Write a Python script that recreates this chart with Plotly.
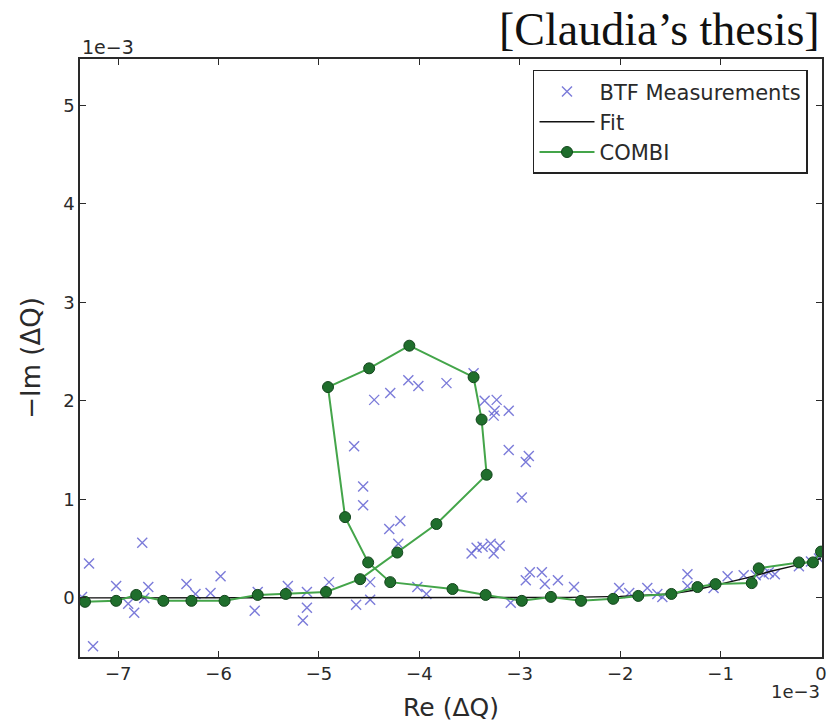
import plotly.graph_objects as go

# ---- data (in units of 1e-3) ----
btf_re = [-7.36, -7.29, -7.25, -7.02, -6.90, -6.84, -6.76, -6.74, -6.70, -6.32, -6.23, -6.08, -5.98,
          -5.61, -5.64, -5.31, -5.12, -5.12, -5.16, -4.90, -4.63, -4.49, -4.49, -4.21, -4.30, -4.19,
          -4.56, -4.56, -4.65, -4.45, -4.29, -4.11, -4.01, -3.73, -3.46, -3.35, -3.23, -3.25, -3.26,
          -3.11, -3.11, -2.91, -2.94, -2.98, -4.02, -3.93, -3.48, -3.43, -3.37, -3.29, -3.20, -3.26,
          -3.09, -2.90, -2.94, -2.78, -2.75, -2.62, -2.46, -2.01, -1.91, -1.73, -1.63, -1.58, -1.33,
          -1.33, -1.07, -0.93, -0.77, -0.65, -0.57, -0.52, -0.46, -0.22, -0.10, -0.02]
btf_im = [0.01, 0.35, -0.49, 0.12, -0.06, -0.15, 0.56, 0.00, 0.11, 0.14, 0.04, 0.05, 0.22,
          0.06, -0.13, 0.12, 0.06, -0.10, -0.23, 0.16, -0.07, 0.16, -0.02, 0.55, 0.70, 0.78,
          0.94, 1.13, 1.54, 2.01, 2.08, 2.21, 2.15, 2.18, 2.28, 2.00, 2.01, 1.90, 1.85,
          1.90, 1.50, 1.44, 1.38, 1.02, 0.11, 0.04, 0.45, 0.51, 0.52, 0.55, 0.53, 0.45,
          -0.05, 0.26, 0.18, 0.26, 0.14, 0.18, 0.11, 0.10, 0.05, 0.10, 0.04, 0.01, 0.24,
          0.12, 0.10, 0.22, 0.23, 0.23, 0.24, 0.26, 0.24, 0.32, 0.37, 0.40]

fit_re = [-7.4, -3.0, -2.5, -2.0, -1.5, -1.25, -1.0, -0.75, -0.5, -0.25, 0.0]
fit_im = [0.0, 0.0, 0.005, 0.015, 0.04, 0.08, 0.14, 0.20, 0.27, 0.33, 0.40]

combi_re = [-7.33, -7.02, -6.82, -6.55, -6.27, -5.94, -5.61, -5.33, -4.93, -4.59, -4.22, -3.83,
            -3.33, -3.38, -3.46, -4.10, -4.50, -4.91, -4.74, -4.51, -4.29, -3.67, -3.34, -2.98,
            -2.69, -2.39, -2.07, -1.82, -1.49, -1.23, -1.05, -0.69, -0.62, -0.22, -0.08, 0.0]
combi_im = [-0.04, -0.03, 0.03, -0.03, -0.03, -0.03, 0.03, 0.04, 0.06, 0.19, 0.46, 0.75,
            1.25, 1.81, 2.24, 2.56, 2.33, 2.14, 0.82, 0.36, 0.16, 0.09, 0.03, -0.03,
            0.01, -0.03, -0.01, 0.02, 0.04, 0.11, 0.14, 0.15, 0.30, 0.36, 0.36, 0.47]

x_ticks = [-7, -6, -5, -4, -3, -2, -1, 0]
y_ticks = [0, 1, 2, 3, 4, 5]

FONT = "DejaVu Sans"
AX = "#2a2a2a"

fig = go.Figure()
fig.add_trace(go.Scatter(
    x=btf_re, y=btf_im, mode="markers", name="BTF Measurements",
    marker=dict(symbol="x-thin", size=10, line=dict(width=1.4, color="rgba(100,100,210,0.85)"),
                color="rgba(100,100,210,0.85)")))
fig.add_trace(go.Scatter(
    x=fit_re, y=fit_im, mode="lines", name="Fit",
    line=dict(color="#111111", width=1.4)))
fig.add_trace(go.Scatter(
    x=combi_re, y=combi_im, mode="lines+markers", name="COMBI",
    line=dict(color="#44a54a", width=2),
    marker=dict(size=11, color="#1f6e2c", line=dict(color="#13451c", width=1))))

fig.update_layout(
    width=840, height=725,
    margin=dict(l=80, r=18, t=59, b=68, autoexpand=False),
    paper_bgcolor="white", plot_bgcolor="white",
    font=dict(family=FONT, size=18, color=AX),
    showlegend=True,
    legend=dict(x=0.6105, y=0.982, xanchor="left", yanchor="top",
                bgcolor="white", bordercolor="#222222", borderwidth=1.5,
                font=dict(family=FONT, size=21, color=AX),
                itemwidth=55, tracegroupgap=0),
    xaxis=dict(range=[-7.38, 0.01], tickvals=x_ticks, ticks="inside", ticklen=6, tickwidth=1,
               tickcolor=AX, showline=True, linecolor=AX, linewidth=1.5, mirror="allticks",
               showgrid=False, zeroline=False, automargin=False,
               title=dict(text="Re (ΔQ)", font=dict(size=25, family=FONT)),
               tickfont=dict(size=18)),
    yaxis=dict(range=[-0.6, 5.47], tickvals=y_ticks, ticks="inside", ticklen=6, tickwidth=1,
               tickcolor=AX, showline=True, linecolor=AX, linewidth=1.5, mirror="allticks",
               showgrid=False, zeroline=False, automargin=False,
               title=dict(text="−Im (ΔQ)", font=dict(size=26, family=FONT)),
               tickfont=dict(size=18)),
    annotations=[
        dict(text="[Claudia’s thesis]", xref="paper", yref="paper", x=1.0, y=1.0485,
             xanchor="right", yanchor="middle", showarrow=False,
             font=dict(family="Liberation Serif", size=46, color="#111111")),
        dict(text="1e−3", xref="paper", yref="paper", x=0.0, y=1.02,
             xanchor="left", yanchor="middle", showarrow=False,
             font=dict(family=FONT, size=19, color=AX)),
        dict(text="1e−3", xref="paper", yref="paper", x=1.0, y=-0.0585,
             xanchor="right", yanchor="middle", showarrow=False,
             font=dict(family=FONT, size=18, color=AX)),
    ],
)

fig.write_html("out.html")
